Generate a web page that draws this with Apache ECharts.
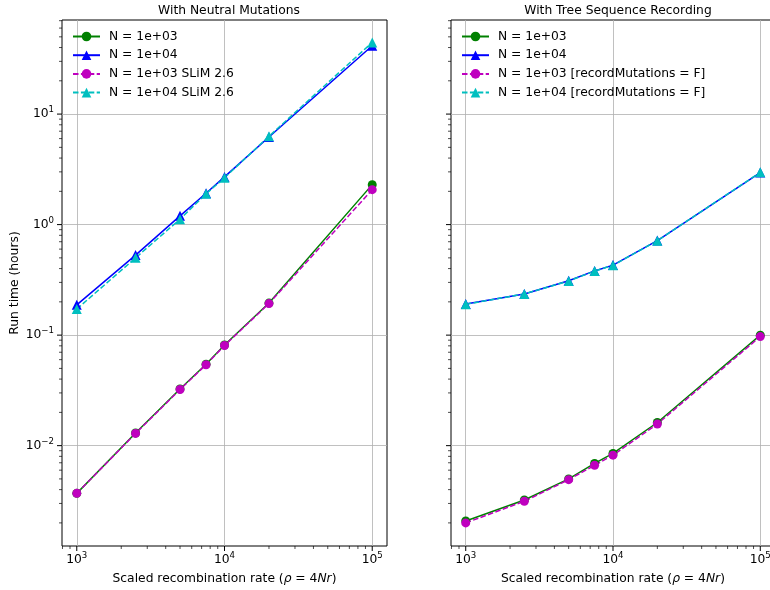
<!DOCTYPE html>
<html>
<head>
<meta charset="utf-8">
<script src="https://cdn.jsdelivr.net/npm/echarts@6/dist/echarts.min.js"></script>
<style>
  html, body { margin: 0; padding: 0; background: #fff; }
  #chart { width: 770px; height: 590px; }
</style>
</head>
<body>
<div id="chart"></div>
<script>
// recombination rates (x) shared by every series
const rho = [1000, 2500, 5000, 7500, 10000, 20000, 100000];

// left panel: with neutral mutations (hours)
const neutralN1e3 = [0.0037, 0.0130, 0.0326, 0.0545, 0.0815, 0.195, 2.30];
const neutralN1e4 = [0.188, 0.53, 1.20, 1.92, 2.70, 6.2, 41.5];
const neutralN1e3Slim = [0.0037, 0.0129, 0.0322, 0.0540, 0.0805, 0.193, 2.07];
const neutralN1e4Slim = [0.172, 0.50, 1.12, 1.90, 2.65, 6.3, 44.5];

// right panel: with tree sequence recording (hours)
const treeN1e3 = [0.00208, 0.00322, 0.00500, 0.00690, 0.0085, 0.0162, 0.100];
const treeN1e4 = [0.191, 0.236, 0.310, 0.381, 0.430, 0.717, 2.96];
const treeN1e3NoMut = [0.00200, 0.00314, 0.00492, 0.00665, 0.0082, 0.0157, 0.097];
const treeN1e4NoMut = [0.190, 0.236, 0.309, 0.380, 0.428, 0.715, 2.97];

// major tick positions
const xMajor = [1e3, 1e4, 1e5];
const yMajor = [1e-2, 1e-1, 1, 10];

const X_MIN = Math.pow(10, 2.9), X_MAX = Math.pow(10, 5.1);
const Y_MIN = 1.236e-3, Y_MAX = 71;
const FONT = 'DejaVu Sans';
const FS = 12.3;

// minor ticks 2..9 per decade (axis decoration)
function decadeTicks(lo, hi) {
  let out = [];
  for (let e = lo; e <= hi; e++) {
    for (let m = 1; m <= 9; m++) out.push(m * Math.pow(10, e));
  }
  return out;
}
const xTicks = decadeTicks(2, 5).filter(v => v >= X_MIN && v <= X_MAX);
const yTicks = decadeTicks(-3, 1).filter(v => v >= Y_MIN && v <= Y_MAX);

function isPow10(v) {
  let e = Math.log10(v);
  return Math.abs(e - Math.round(e)) < 1e-6;
}

function powLabel(v) {
  if (!isPow10(v)) return '';
  let e = Math.round(Math.log10(v));
  let s = e < 0 ? '\u2212' + (-e) : String(e);
  return '{b|10}{s|' + s + '}';
}

const labelRich = {
  b: { fontFamily: FONT, fontSize: FS, color: '#000', lineHeight: 17 },
  s: { fontFamily: FONT, fontSize: 8.6, color: '#000', lineHeight: 10, verticalAlign: 'top' }
};

var chart = echarts.init(document.getElementById('chart'));

function lineSeries(name, data, color, symbol, dashed, idx) {
  return {
    name: name,
    type: 'line',
    xAxisIndex: idx,
    yAxisIndex: idx,
    data: rho.map((x, i) => [x, data[i]]),
    symbol: symbol,
    symbolSize: symbol === 'circle' ? 9 : 10,
    showAllSymbol: true,
    itemStyle: { color: color },
    lineStyle: { color: color, width: 1.5, type: dashed ? [5.5, 2.4] : 'solid' },
    emphasis: { disabled: true },
    animation: false
  };
}

function xTickSeries(idx) {
  return {
    type: 'custom',
    xAxisIndex: idx,
    yAxisIndex: idx,
    silent: true,
    clip: false,
    animation: false,
    data: xTicks.map(v => [v, 1]),
    renderItem: function (params, api) {
      let v = api.value(0);
      let p = api.coord([v, 1]);
      let cs = params.coordSys;
      let bottom = cs.y + cs.height;
      let len = isPow10(v) ? 5 : 3;
      return {
        type: 'line',
        shape: { x1: p[0], y1: bottom, x2: p[0], y2: bottom + len },
        style: { stroke: '#000', lineWidth: isPow10(v) ? 1 : 0.7 }
      };
    }
  };
}

function yTickSeries(idx) {
  return {
    type: 'custom',
    xAxisIndex: idx,
    yAxisIndex: idx,
    silent: true,
    clip: false,
    animation: false,
    data: yTicks.map(v => [1e4, v]),
    renderItem: function (params, api) {
      let v = api.value(1);
      let p = api.coord([1e4, v]);
      let cs = params.coordSys;
      let len = isPow10(v) ? 5 : 3;
      return {
        type: 'line',
        shape: { x1: cs.x, y1: p[1], x2: cs.x - len, y2: p[1] },
        style: { stroke: '#000', lineWidth: isPow10(v) ? 1 : 0.7 }
      };
    }
  };
}

function xAxis(idx) {
  return {
    type: 'log',
    logBase: 10,
    gridIndex: idx,
    min: X_MIN,
    max: X_MAX,
    name: '{n|Scaled recombination rate (}{i|\u03c1}{n| = 4}{i|Nr}{n|)}',
    nameLocation: 'middle',
    nameGap: 27,
    nameTextStyle: {
      rich: {
        n: { fontFamily: FONT, fontSize: FS, color: '#000' },
        i: { fontFamily: FONT, fontSize: FS, color: '#000', fontStyle: 'italic' }
      }
    },
    axisLine: { show: false },
    axisTick: { show: false },
    axisLabel: {
      margin: 5,
      formatter: powLabel,
      rich: labelRich,
      showMinLabel: false,
      showMaxLabel: false
    },
    splitLine: {
      show: true,
      showMinLine: false,
      showMaxLine: false,
      lineStyle: { color: '#b0b0b0', width: 0.8 }
    }
  };
}

function yAxis(idx, withLabels) {
  return {
    type: 'log',
    logBase: 10,
    gridIndex: idx,
    min: Y_MIN,
    max: Y_MAX,
    name: withLabels ? 'Run time (hours)' : '',
    nameLocation: 'middle',
    nameGap: 41,
    nameTextStyle: { fontFamily: FONT, fontSize: FS, color: '#000' },
    axisLine: { show: false },
    axisTick: { show: false },
    axisLabel: {
      show: withLabels,
      margin: 8,
      formatter: powLabel,
      rich: labelRich,
      showMinLabel: false,
      showMaxLabel: false
    },
    splitLine: {
      show: true,
      showMinLine: false,
      showMaxLine: false,
      lineStyle: { color: '#b0b0b0', width: 0.8 }
    }
  };
}

function legend(names, left) {
  return {
    data: names,
    orient: 'vertical',
    left: left,
    top: 25.5,
    itemWidth: 27,
    itemHeight: 12,
    itemGap: 6.7,
    selectedMode: false,
    textStyle: { fontFamily: FONT, fontSize: FS, lineHeight: 12, color: '#000', padding: [0, 0, 0, 4] }
  };
}

option = {
  backgroundColor: '#fff',
  animation: false,
  title: [
    {
      text: 'With Neutral Mutations',
      left: 224, top: 0, textAlign: 'center',
      textStyle: { fontFamily: FONT, fontSize: FS, fontWeight: 'normal', color: '#000' }
    },
    {
      text: 'With Tree Sequence Recording',
      left: 613, top: 0, textAlign: 'center',
      textStyle: { fontFamily: FONT, fontSize: FS, fontWeight: 'normal', color: '#000' }
    }
  ],
  legend: [
    legend(['N = 1e+03', 'N = 1e+04', 'N = 1e+03 SLiM 2.6', 'N = 1e+04 SLiM 2.6'], 67),
    legend(['N = 1e+03', 'N = 1e+04', 'N = 1e+03 [recordMutations = F]', 'N = 1e+04 [recordMutations = F]'], 456)
  ],
  grid: [
    { left: 62, width: 325, top: 20, bottom: 44, outerBoundsMode: 'none', show: true, borderColor: '#000', borderWidth: 1 },
    { left: 451, width: 324, top: 20, bottom: 44, outerBoundsMode: 'none', show: true, borderColor: '#000', borderWidth: 1 }
  ],
  xAxis: [xAxis(0), xAxis(1)],
  yAxis: [yAxis(0, true), yAxis(1, false)],
  series: [
    lineSeries('N = 1e+03', neutralN1e3, '#008000', 'circle', false, 0),
    lineSeries('N = 1e+04', neutralN1e4, '#0000ff', 'triangle', false, 0),
    lineSeries('N = 1e+03 SLiM 2.6', neutralN1e3Slim, '#bf00bf', 'circle', true, 0),
    lineSeries('N = 1e+04 SLiM 2.6', neutralN1e4Slim, '#00bfbf', 'triangle', true, 0),
    lineSeries('N = 1e+03', treeN1e3, '#008000', 'circle', false, 1),
    lineSeries('N = 1e+04', treeN1e4, '#0000ff', 'triangle', false, 1),
    lineSeries('N = 1e+03 [recordMutations = F]', treeN1e3NoMut, '#bf00bf', 'circle', true, 1),
    lineSeries('N = 1e+04 [recordMutations = F]', treeN1e4NoMut, '#00bfbf', 'triangle', true, 1),
    xTickSeries(0), yTickSeries(0),
    xTickSeries(1), yTickSeries(1)
  ]
};

chart.setOption(option);
</script>
</body>
</html>
